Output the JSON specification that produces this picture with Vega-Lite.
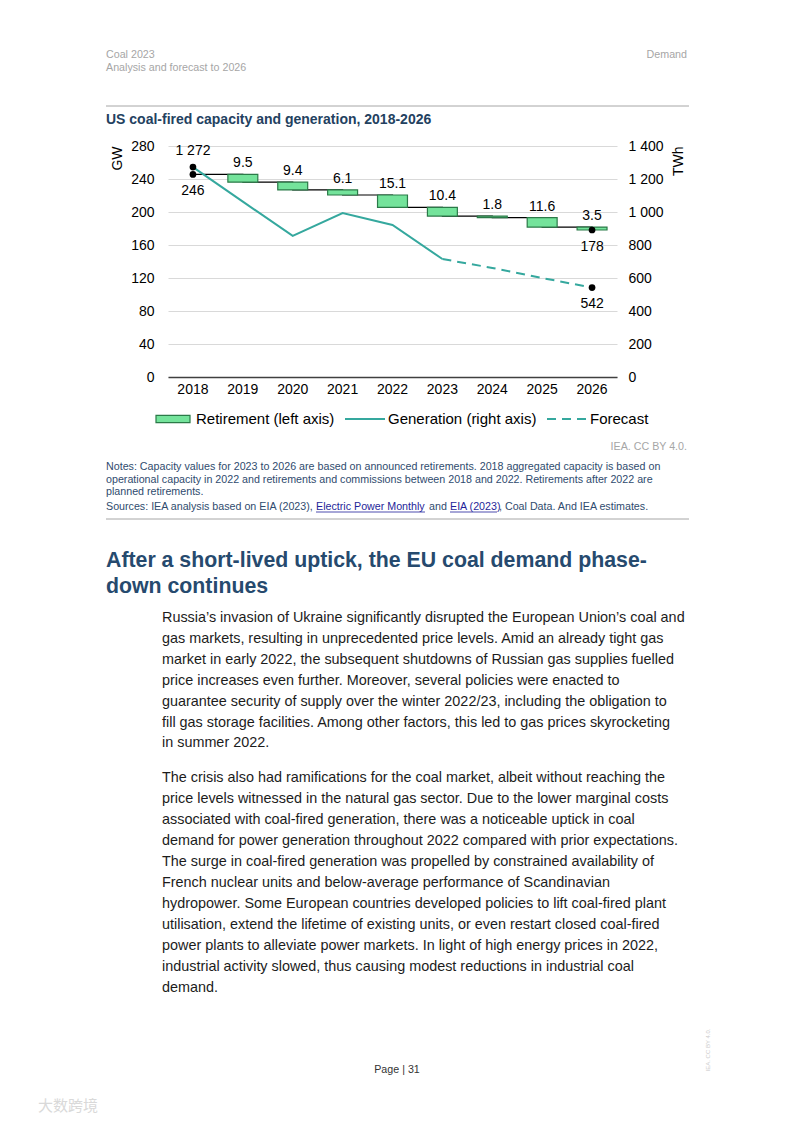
{
  "$schema": "https://vega.github.io/schema/vega-lite/v6.json",
  "width": 449,
  "height": 231,
  "autosize": {"type": "none"},
  "padding": {"left": 168, "top": 146, "right": 176, "bottom": 745},
  "background": "#ffffff",
  "config": {
    "view": {"stroke": null},
    "font": "Liberation Sans",
    "locale": {"number": {"decimal": ".", "thousands": " ", "grouping": [3], "currency": ["", ""]}},
    "axis": {"labelFont": "Liberation Sans", "titleFont": "Liberation Sans", "labelColor": "#000000", "titleColor": "#000000", "labelFontSize": 14, "titleFontSize": 14, "titleFontWeight": "normal", "ticks": false, "labelOverlap": false},
    "axisX": {"domainColor": "#404040", "domainWidth": 1.5, "labelPadding": 5, "grid": false, "labelAngle": 0, "title": null},
    "legend": {"orient": "none", "direction": "horizontal", "title": null, "labelFontSize": 15, "labelFont": "Liberation Sans", "labelColor": "#000000", "symbolSize": 1600, "labelOffset": 2}
  },
  "datasets": {
    "capacity": [
      {"year": "2018", "top": 245.6, "bottom": 245.6, "retirement": null},
      {"year": "2019", "top": 245.6, "bottom": 236.1, "retirement": 9.5},
      {"year": "2020", "top": 236.1, "bottom": 226.7, "retirement": 9.4},
      {"year": "2021", "top": 226.7, "bottom": 220.6, "retirement": 6.1},
      {"year": "2022", "top": 220.6, "bottom": 205.5, "retirement": 15.1},
      {"year": "2023", "top": 205.5, "bottom": 195.1, "retirement": 10.4},
      {"year": "2024", "top": 195.1, "bottom": 193.3, "retirement": 1.8},
      {"year": "2025", "top": 193.3, "bottom": 181.7, "retirement": 11.6},
      {"year": "2026", "top": 181.7, "bottom": 178.2, "retirement": 3.5}
    ],
    "generation": [
      {"year": "2018", "twh": 1272, "type": "actual"},
      {"year": "2019", "twh": 1063, "type": "actual"},
      {"year": "2020", "twh": 855, "type": "actual"},
      {"year": "2021", "twh": 994, "type": "actual"},
      {"year": "2022", "twh": 921, "type": "actual"},
      {"year": "2023", "twh": 715, "type": "actual"},
      {"year": "2023", "twh": 715, "type": "forecast"},
      {"year": "2024", "twh": 661, "type": "forecast"},
      {"year": "2025", "twh": 600, "type": "forecast"},
      {"year": "2026", "twh": 542, "type": "forecast"}
    ]
  },
  "layer": [
    {
      "data": {"name": "capacity"},
      "encoding": {
        "x": {"field": "year", "type": "ordinal", "scale": {"domain": ["2018", "2019", "2020", "2021", "2022", "2023", "2024", "2025", "2026"], "paddingInner": 0, "paddingOuter": 0}}
      },
      "layer": [
        {
          "mark": {"type": "line", "interpolate": "step-after", "color": "#000000", "strokeWidth": 1.2},
          "encoding": {
            "y": {"field": "bottom", "type": "quantitative", "scale": {"domain": [0, 280]},
              "axis": {"values": [0, 40, 80, 120, 160, 200, 240, 280], "tickCount": 8, "grid": true, "gridColor": "#d9d9d9", "gridWidth": 1, "domain": false, "labelPadding": 14, "title": "GW", "titleAnchor": "end", "titleAngle": 270, "titlePadding": 6}}
          }
        },
        {
          "transform": [{"filter": "isValid(datum.retirement)"}],
          "mark": {"type": "bar", "width": {"band": 0.6}, "stroke": "#2b7a48", "strokeWidth": 1.2},
          "encoding": {
            "y": {"field": "top", "type": "quantitative"},
            "y2": {"field": "bottom"},
            "fill": {
              "datum": "Retirement (left axis)",
              "scale": {"range": ["#74e39b"]},
              "legend": {"legendX": -16, "legendY": 252, "symbolType": "M-0.85,-0.18H0.85V0.18H-0.85Z", "symbolStrokeColor": "#2b7a48", "symbolStrokeWidth": 1.2, "symbolOpacity": 1}
            }
          }
        },
        {
          "transform": [{"filter": "isValid(datum.retirement)"}],
          "mark": {"type": "text", "baseline": "bottom", "dy": -4, "fontSize": 14, "color": "#000000"},
          "encoding": {
            "y": {"field": "top", "type": "quantitative"},
            "text": {"field": "retirement", "type": "quantitative", "format": ".1f"}
          }
        },
        {
          "transform": [{"filter": "datum.year == '2018' || datum.year == '2026'"}],
          "mark": {"type": "point", "filled": true, "color": "#000000", "size": 45, "opacity": 1},
          "encoding": {"y": {"field": "bottom", "type": "quantitative"}}
        },
        {
          "transform": [{"filter": "datum.year == '2018' || datum.year == '2026'"}],
          "mark": {"type": "text", "baseline": "top", "dy": 10, "fontSize": 14, "color": "#000000"},
          "encoding": {
            "y": {"field": "bottom", "type": "quantitative"},
            "text": {"field": "bottom", "type": "quantitative", "format": ".0f"}
          }
        }
      ]
    },
    {
      "data": {"name": "generation"},
      "encoding": {
        "x": {"field": "year", "type": "ordinal"},
        "y": {"field": "twh", "type": "quantitative", "scale": {"domain": [0, 1400]},
          "axis": {"orient": "right", "values": [0, 200, 400, 600, 800, 1000, 1200, 1400], "tickCount": 8, "format": ",d", "grid": false, "domain": false, "labelPadding": 11, "title": "TWh", "titleAnchor": "end", "titleAngle": 270, "titlePadding": 22}}
      },
      "layer": [
        {
          "transform": [{"filter": "datum.type == 'actual'"}],
          "mark": {"type": "line", "strokeWidth": 2},
          "encoding": {
            "stroke": {
              "datum": "Generation (right axis)",
              "scale": {"range": ["#35a89e"]},
              "legend": {"legendX": 176, "legendY": 252, "symbolType": "stroke", "symbolStrokeWidth": 2, "symbolOpacity": 1}
            }
          }
        },
        {
          "transform": [{"filter": "datum.type == 'forecast'"}],
          "mark": {"type": "line", "strokeWidth": 2, "color": "#35a89e"},
          "encoding": {
            "strokeDash": {
              "datum": "Forecast",
              "scale": {"range": [[9, 6]]},
              "legend": {"legendX": 378, "legendY": 252, "symbolType": "stroke", "symbolStrokeColor": "#35a89e", "symbolStrokeWidth": 2, "symbolDash": [7, 5], "symbolOpacity": 1}
            }
          }
        },
        {
          "transform": [{"filter": "(datum.year == '2018' && datum.type == 'actual') || datum.year == '2026'"}],
          "mark": {"type": "point", "filled": true, "color": "#000000", "size": 45, "opacity": 1}
        },
        {
          "transform": [{"filter": "datum.year == '2018' && datum.type == 'actual'"}],
          "mark": {"type": "text", "baseline": "bottom", "dy": -9, "fontSize": 14, "color": "#000000"},
          "encoding": {"text": {"field": "twh", "type": "quantitative", "format": ",d"}}
        },
        {
          "transform": [{"filter": "datum.year == '2026'"}],
          "mark": {"type": "text", "baseline": "top", "dy": 9, "fontSize": 14, "color": "#000000"},
          "encoding": {"text": {"field": "twh", "type": "quantitative", "format": ",d"}}
        }
      ]
    },
    {
      "data": {"values": [{}]},
      "mark": {"type": "text", "align": "left", "baseline": "alphabetic", "fontSize": 10.7, "color": "#a6a6a6", "lineHeight": 13},
      "encoding": {"x": {"value": -62}, "y": {"value": -88}, "text": {"value": ["Coal 2023", "Analysis and forecast to 2026"]}}
    },
    {
      "data": {"values": [{}]},
      "mark": {"type": "text", "align": "right", "baseline": "alphabetic", "fontSize": 10.7, "color": "#a6a6a6"},
      "encoding": {"x": {"value": 519}, "y": {"value": -88}, "text": {"value": "Demand"}}
    },
    {
      "data": {"values": [{}]},
      "mark": {"type": "rule", "color": "#a6a6a6", "strokeWidth": 1},
      "encoding": {"x": {"value": -62}, "x2": {"value": 521}, "y": {"value": -40}}
    },
    {
      "data": {"values": [{}]},
      "mark": {"type": "text", "align": "left", "baseline": "alphabetic", "fontSize": 14, "fontWeight": "bold", "color": "#23415f"},
      "encoding": {"x": {"value": -62}, "y": {"value": -22}, "text": {"value": "US coal-fired capacity and generation, 2018-2026"}}
    },
    {
      "data": {"values": [{}]},
      "mark": {"type": "text", "align": "right", "baseline": "alphabetic", "fontSize": 10.7, "color": "#a6a6a6"},
      "encoding": {"x": {"value": 519}, "y": {"value": 304}, "text": {"value": "IEA. CC BY 4.0."}}
    },
    {
      "data": {"values": [{}]},
      "mark": {"type": "text", "align": "left", "baseline": "alphabetic", "fontSize": 10.7, "color": "#2f4b6e", "lineHeight": 12.5},
      "encoding": {"x": {"value": -62}, "y": {"value": 324}, "text": {"value": ["Notes: Capacity values for 2023 to 2026 are based on announced retirements. 2018 aggregated capacity is based on", "operational capacity in 2022 and retirements and commissions between 2018 and 2022. Retirements after 2022 are", "planned retirements."]}}
    },
    {
      "data": {"values": [{}]},
      "mark": {"type": "text", "align": "left", "baseline": "alphabetic", "fontSize": 10.7, "color": "#2f4b6e"},
      "encoding": {"x": {"value": -62}, "y": {"value": 364}, "text": {"value": "Sources: IEA analysis based on EIA (2023),"}}
    },
    {
      "data": {"values": [{}]},
      "mark": {"type": "text", "align": "left", "baseline": "alphabetic", "fontSize": 10.7, "color": "#1f1f99"},
      "encoding": {"x": {"value": 148}, "y": {"value": 364}, "text": {"value": "Electric Power Monthly"}}
    },
    {
      "data": {"values": [{}]},
      "mark": {"type": "rule", "color": "#1f1f99", "strokeWidth": 0.8},
      "encoding": {"x": {"value": 148}, "x2": {"value": 257}, "y": {"value": 366}}
    },
    {
      "data": {"values": [{}]},
      "mark": {"type": "text", "align": "left", "baseline": "alphabetic", "fontSize": 10.7, "color": "#2f4b6e"},
      "encoding": {"x": {"value": 261}, "y": {"value": 364}, "text": {"value": "and"}}
    },
    {
      "data": {"values": [{}]},
      "mark": {"type": "text", "align": "left", "baseline": "alphabetic", "fontSize": 10.7, "color": "#1f1f99"},
      "encoding": {"x": {"value": 282}, "y": {"value": 364}, "text": {"value": "EIA (2023)"}}
    },
    {
      "data": {"values": [{}]},
      "mark": {"type": "rule", "color": "#1f1f99", "strokeWidth": 0.8},
      "encoding": {"x": {"value": 282}, "x2": {"value": 329}, "y": {"value": 366}}
    },
    {
      "data": {"values": [{}]},
      "mark": {"type": "text", "align": "left", "baseline": "alphabetic", "fontSize": 10.7, "color": "#2f4b6e"},
      "encoding": {"x": {"value": 331}, "y": {"value": 364}, "text": {"value": ", Coal Data. And IEA estimates."}}
    },
    {
      "data": {"values": [{}]},
      "mark": {"type": "rule", "color": "#a6a6a6", "strokeWidth": 1},
      "encoding": {"x": {"value": -62}, "x2": {"value": 521}, "y": {"value": 373}}
    },
    {
      "data": {"values": [{}]},
      "mark": {"type": "text", "align": "left", "baseline": "alphabetic", "fontSize": 21.3, "fontWeight": "bold", "color": "#264a6e", "lineHeight": 26},
      "encoding": {"x": {"value": -62}, "y": {"value": 421}, "text": {"value": ["After a short-lived uptick, the EU coal demand phase-", "down continues"]}}
    },
    {
      "data": {"values": [{}]},
      "mark": {"type": "text", "align": "left", "baseline": "alphabetic", "fontSize": 14.4, "color": "#1c1c1c", "lineHeight": 20.9},
      "encoding": {"x": {"value": -6}, "y": {"value": 476}, "text": {"value": [
        "Russia’s invasion of Ukraine significantly disrupted the European Union’s coal and",
        "gas markets, resulting in unprecedented price levels. Amid an already tight gas",
        "market in early 2022, the subsequent shutdowns of Russian gas supplies fuelled",
        "price increases even further. Moreover, several policies were enacted to",
        "guarantee security of supply over the winter 2022/23, including the obligation to",
        "fill gas storage facilities. Among other factors, this led to gas prices skyrocketing",
        "in summer 2022."]}}
    },
    {
      "data": {"values": [{}]},
      "mark": {"type": "text", "align": "left", "baseline": "alphabetic", "fontSize": 14.4, "color": "#1c1c1c", "lineHeight": 21},
      "encoding": {"x": {"value": -6}, "y": {"value": 636}, "text": {"value": [
        "The crisis also had ramifications for the coal market, albeit without reaching the",
        "price levels witnessed in the natural gas sector. Due to the lower marginal costs",
        "associated with coal-fired generation, there was a noticeable uptick in coal",
        "demand for power generation throughout 2022 compared with prior expectations.",
        "The surge in coal-fired generation was propelled by constrained availability of",
        "French nuclear units and below-average performance of Scandinavian",
        "hydropower. Some European countries developed policies to lift coal-fired plant",
        "utilisation, extend the lifetime of existing units, or even restart closed coal-fired",
        "power plants to alleviate power markets. In light of high energy prices in 2022,",
        "industrial activity slowed, thus causing modest reductions in industrial coal",
        "demand."]}}
    },
    {
      "data": {"values": [{}]},
      "mark": {"type": "text", "align": "center", "baseline": "alphabetic", "fontSize": 10.7, "color": "#333333"},
      "encoding": {"x": {"value": 229}, "y": {"value": 927}, "text": {"value": "Page | 31"}}
    },
    {
      "data": {"values": [{}]},
      "mark": {"type": "text", "align": "center", "baseline": "middle", "fontSize": 6, "color": "#cccccc", "angle": 270},
      "encoding": {"x": {"value": 540}, "y": {"value": 904}, "text": {"value": "IEA. CC BY 4.0."}}
    },
    {
      "data": {"values": [{}]},
      "mark": {"type": "text", "align": "left", "baseline": "middle", "fontSize": 15, "font": "Noto Sans CJK SC", "color": "#d9d9d9"},
      "encoding": {"x": {"value": -130}, "y": {"value": 960}, "text": {"value": "大数跨境"}}
    }
  ],
  "resolve": {"scale": {"y": "independent"}}
}
